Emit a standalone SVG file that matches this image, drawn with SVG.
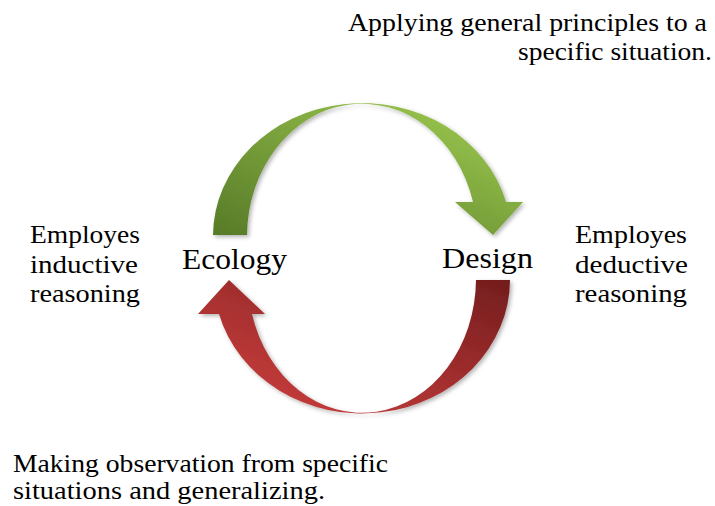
<svg xmlns="http://www.w3.org/2000/svg" width="715" height="506" viewBox="0 0 715 506">
<defs>
<linearGradient id="gGreen" x1="0" y1="1" x2="1" y2="0">
<stop offset="0" stop-color="#577a28"/>
<stop offset="0.5" stop-color="#7ba33c"/>
<stop offset="1" stop-color="#a3d052"/>
</linearGradient>
<linearGradient id="gRed" x1="1" y1="0" x2="0" y2="1">
<stop offset="0" stop-color="#731d1d"/>
<stop offset="0.5" stop-color="#a52f2f"/>
<stop offset="1" stop-color="#d2423f"/>
</linearGradient>
<filter id="sh" x="-10%" y="-10%" width="130%" height="130%">
<feDropShadow dx="2" dy="2" stdDeviation="2" flood-color="#000" flood-opacity="0.3"/>
</filter>
</defs>
<style>
.t { font-size: 26px; }
.n { font-size: 30px; }
</style>
<g id="connectors">
<path id="arrow-ecology-design" fill="url(#gGreen)" filter="url(#sh)" d="M213,235 A149,133 0 0 1 506,202 L523,202 L493,235 L455,202 L473,202 A115,133 0 0 0 247,235 Z"/>
<path id="arrow-design-ecology" fill="url(#gRed)" filter="url(#sh)" d="M510,280 A148,134 0 0 1 219,314 L198,314 L229,280 L265,314 L252,314 A114,134 0 0 0 476,280 Z"/>
</g>
<g font-family="'Liberation Serif', 'DejaVu Serif', serif" fill="#000">
<g id="node-ecology">
<text class="n" x="182" y="269" textLength="105" lengthAdjust="spacingAndGlyphs">Ecology</text>
</g>
<g id="node-design">
<text class="n" x="442" y="268" textLength="91" lengthAdjust="spacingAndGlyphs">Design</text>
</g>
<g id="label-top">
<text class="t" x="348" y="31" textLength="359" lengthAdjust="spacingAndGlyphs">Applying general principles to a</text>
<text class="t" x="518" y="60" textLength="194" lengthAdjust="spacingAndGlyphs">specific situation.</text>
</g>
<g id="label-left">
<text class="t" x="30" y="243" textLength="110" lengthAdjust="spacingAndGlyphs">Employes</text>
<text class="t" x="30" y="273" textLength="108" lengthAdjust="spacingAndGlyphs">inductive</text>
<text class="t" x="30" y="302" textLength="110" lengthAdjust="spacingAndGlyphs">reasoning</text>
</g>
<g id="label-right">
<text class="t" x="575" y="243" textLength="112" lengthAdjust="spacingAndGlyphs">Employes</text>
<text class="t" x="575" y="273" textLength="113" lengthAdjust="spacingAndGlyphs">deductive</text>
<text class="t" x="575" y="302" textLength="112" lengthAdjust="spacingAndGlyphs">reasoning</text>
</g>
<g id="label-bottom">
<text class="t" x="13" y="472" textLength="375" lengthAdjust="spacingAndGlyphs">Making observation from specific</text>
<text class="t" x="13" y="499" textLength="312" lengthAdjust="spacingAndGlyphs">situations and generalizing.</text>
</g>
</g>
</svg>
